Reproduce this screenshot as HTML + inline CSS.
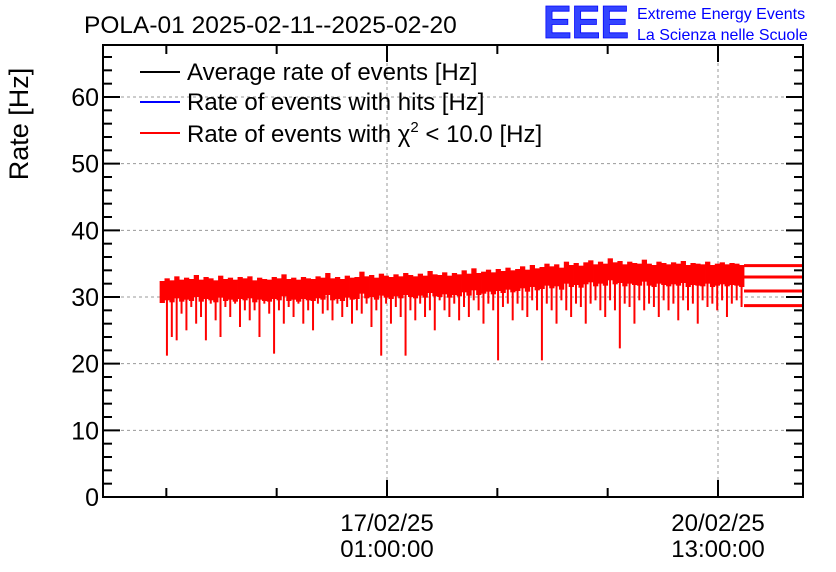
<!DOCTYPE html>
<html><head><meta charset="utf-8"><style>
body{margin:0;background:#fff;}
svg{display:block;font-family:"Liberation Sans",sans-serif;}
</style></head><body>
<svg id="c" width="836" height="572">
<text x="84" y="33" font-size="24.5">POLA-01 2025-02-11--2025-02-20</text>
<text x="543" y="38" font-size="46" fill="#3344ff" stroke="#00f" stroke-width="0.8" font-weight="bold" textLength="86" lengthAdjust="spacingAndGlyphs">EEE</text>
<text x="637" y="19" font-size="16" fill="#00f">Extreme Energy Events</text>
<text x="637" y="40" font-size="16" fill="#00f">La Scienza nelle Scuole</text>
<text transform="translate(28,124) rotate(-90)" text-anchor="middle" font-size="27">Rate [Hz]</text>
<g id="grid"></g><g id="data"></g><g id="axes"></g>
<g>
<line x1="140" y1="72" x2="180" y2="72" stroke="#000" stroke-width="2"/>
<text x="187" y="80" font-size="24">Average rate of events [Hz]</text>
<line x1="140" y1="102" x2="180" y2="102" stroke="#00f" stroke-width="2"/>
<text x="187" y="110" font-size="24">Rate of events with hits [Hz]</text>
<line x1="140" y1="133" x2="180" y2="133" stroke="#f00" stroke-width="2"/>
<text x="187" y="142" font-size="24">Rate of events with χ<tspan dy="-10" font-size="15">2</tspan><tspan dy="10"> &lt; 10.0 [Hz]</tspan></text>
</g>
</svg>
<script>
const yTicks=[0,10,20,30,40,50,60];
const xTickLabels=[["17/02/25","01:00:00"],["20/02/25","13:00:00"]];
const xTickHours=[0,84];
const startHour=-57.7, endHour=90.6;
const hiVals=[32.4,32.8,32.5,33.1,32.6,32.9,32.7,33.3,32.6,33.0,32.8,32.5,33.2,32.7,32.9,32.6,33.0,32.8,33.1,32.5,32.9,32.7,32.6,33.0,32.8,33.4,32.7,32.9,32.6,33.0,32.8,32.7,33.1,32.9,33.6,32.8,33.0,32.7,33.2,32.9,
33.0,33.8,33.1,33.3,32.9,33.5,33.2,33.0,33.4,33.1,33.6,33.3,33.1,33.5,33.2,33.9,33.4,33.3,33.7,33.2,33.6,33.4,34.0,33.5,34.3,33.6,33.8,34.1,33.7,34.2,33.9,34.4,34.0,34.2,34.6,34.1,34.8,34.3,34.5,35.0,
34.6,34.9,34.4,35.3,34.8,35.1,34.7,35.2,35.5,34.9,35.3,35.0,35.8,35.2,35.4,34.9,35.3,35.1,35.0,35.6,35.0,34.8,35.3,35.1,34.9,35.2,35.0,35.4,34.8,35.1,35.0,34.9,35.3,34.8,35.0,35.2,34.9,35.1,35.0,34.8];
const loVals=[29.5,21.2,24,23.5,27.5,25,28.5,26,27,23.5,29,26.5,24,28.5,27,29,25.5,28,26.5,28,
24,29,27.5,21.5,28,26,28.5,27,29,26,28,25,29,27.5,28,26.5,29,27,28.5,26,
28,27.5,29,25.5,28,21.2,29,26,28.5,27,21.2,28,26.5,29,27,28,25,29.5,28,27,
29,26.5,28.5,27,29.5,28,26,29,28,20.5,28.5,29,26.5,29,28,27,29.5,28,20.5,29,
28,26,29.5,28,27,29,28.5,26,29,29.5,28,27,29.5,28,22.3,29,28.5,26,29.5,28,
29,28.5,27,29.5,28,29,26.5,29.5,28,29,26,29.5,28.5,29,28,29.5,27,29,29.5,28.5];
const tailVals=[34.7,33.0,30.9,28.7];
const L=103,R=803,T=45,B=497,YMAX=67.8;
const ys=v=>B-(v/YMAX)*(B-T);
const xs=h=>387+h*331/84;
const NS="http://www.w3.org/2000/svg";
function mk(tag,at,par){const e=document.createElementNS(NS,tag);for(const k in at)e.setAttribute(k,at[k]);document.getElementById(par).appendChild(e);return e;}
yTicks.forEach(v=>{if(v>0){const g=mk('line',{x1:L,x2:R,y1:ys(v),y2:ys(v),stroke:'#999','stroke-dasharray':'3,3'},'grid');

}});
xTickHours.forEach(h=>{const g=mk('line',{x1:xs(h),x2:xs(h),y1:T,y2:B,stroke:'#999','stroke-dasharray':'3,3'},'grid');

});
const n=hiVals.length, bw=(xs(endHour)-xs(startHour))/n;
for(let i=0;i<n;i++){
 const x0=xs(startHour)+i*bw;
 const r=mk('rect',{x:x0,y:ys(hiVals[i]),width:bw+0.4,height:ys(hiVals[i]-3.3)-ys(hiVals[i]),fill:'#f00'},'data');
 
 
 const s=mk('line',{x1:x0+bw/2,x2:x0+bw/2,y1:ys(hiVals[i]-3),y2:ys(loVals[i]),stroke:'#f00','stroke-width':2},'data');
 
 
}
tailVals.forEach(v=>{const t=mk('line',{x1:xs(endHour),x2:R,y1:ys(v),y2:ys(v),stroke:'#f00','stroke-width':3},'data');

});
const f=mk('rect',{x:L,y:T,width:R-L,height:B-T,fill:'none',stroke:'#000','stroke-width':2},'axes');


for(let v=0;v<=YMAX;v+=2){const len=v%10===0?17:9;
 mk('line',{x1:L,x2:L+len,y1:ys(v),y2:ys(v),stroke:'#000','stroke-width':2},'axes');
 mk('line',{x1:R,x2:R-len,y1:ys(v),y2:ys(v),stroke:'#000','stroke-width':2},'axes');}
yTicks.forEach(v=>{const t=mk('text',{x:99,y:ys(v)+9,'text-anchor':'end','font-size':25},'axes');t.textContent=v;

});
for(let h=-56;h<=104;h+=28){const major=(h%84===0);const len=major?17:9;
 mk('line',{x1:xs(h),x2:xs(h),y1:B,y2:B-len,stroke:'#000','stroke-width':2},'axes');
 mk('line',{x1:xs(h),x2:xs(h),y1:T,y2:T+len,stroke:'#000','stroke-width':2},'axes');}
xTickHours.forEach((h,i)=>{xTickLabels[i].forEach((s,j)=>{const t=mk('text',{x:xs(h),y:531+j*26,'text-anchor':'middle','font-size':24},'axes');t.textContent=s;

});});
</script>
</body></html>
